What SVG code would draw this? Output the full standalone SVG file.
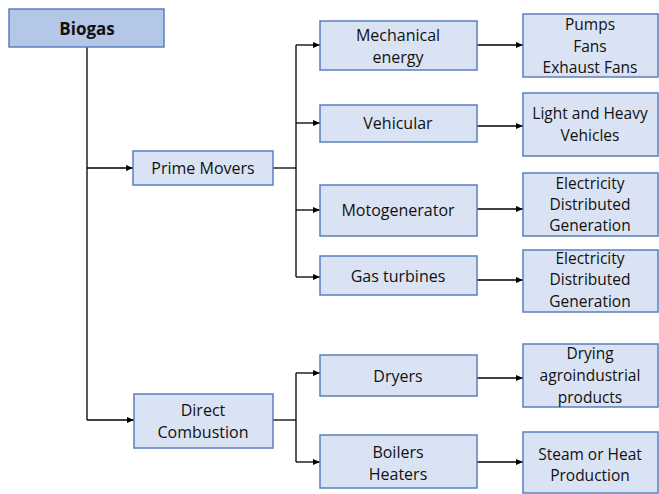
<svg xmlns="http://www.w3.org/2000/svg" width="659" height="494" viewBox="0 0 659 494">
<style>
.box{fill:#dae3f3;stroke:#5a7fc0;stroke-width:1.5}
.root{fill:#b4c7e7;stroke:#5a7fc0;stroke-width:1.5}
text{font-family:"Open Sans","Noto Sans",sans-serif;font-size:16px;fill:#111;text-anchor:middle;dominant-baseline:central}
.s{font-size:15.5px}
.b{font-weight:bold;font-size:17px}
.c{fill:none;stroke:#000;stroke-width:1.3}
</style>
<defs>
<marker id="ah" markerWidth="8" markerHeight="8" refX="7" refY="4" orient="auto" markerUnits="userSpaceOnUse">
<path d="M0,1 L7,4 L0,7 Z" fill="#000"/>
</marker>
</defs>
<rect width="659" height="494" fill="#fff"/>
<g id="connectors">
<path class="c" d="M87,47 V420"/>
<path class="c" d="M87,168 H133" marker-end="url(#ah)"/>
<path class="c" d="M87,420 H134" marker-end="url(#ah)"/>
<path class="c" d="M273,168 H296"/>
<path class="c" d="M296,45 V277"/>
<path class="c" d="M296,45 H320" marker-end="url(#ah)"/>
<path class="c" d="M296,123 H320" marker-end="url(#ah)"/>
<path class="c" d="M296,210 H320" marker-end="url(#ah)"/>
<path class="c" d="M296,277 H320" marker-end="url(#ah)"/>
<path class="c" d="M273,420 H296"/>
<path class="c" d="M296,373 V462"/>
<path class="c" d="M296,373 H320" marker-end="url(#ah)"/>
<path class="c" d="M296,462 H320" marker-end="url(#ah)"/>
<path class="c" d="M477,45 H523" marker-end="url(#ah)"/>
<path class="c" d="M477,126 H523" marker-end="url(#ah)"/>
<path class="c" d="M477,209 H523" marker-end="url(#ah)"/>
<path class="c" d="M477,280 H523" marker-end="url(#ah)"/>
<path class="c" d="M477,378 H523" marker-end="url(#ah)"/>
<path class="c" d="M477,462 H523" marker-end="url(#ah)"/>
</g>
<g id="biogas"><rect class="root" x="9" y="9" width="155" height="38"/><text class="b" x="87" y="28">Biogas</text></g>
<g id="prime-movers"><rect class="box" x="133" y="151" width="140" height="34"/><text x="203" y="168">Prime Movers</text></g>
<g id="direct-combustion"><rect class="box" x="134" y="394" width="139" height="54"/><text x="203" y="410">Direct</text><text x="203" y="432">Combustion</text></g>
<g id="mechanical-energy"><rect class="box" x="320" y="21" width="157" height="49"/><text x="398" y="35">Mechanical</text><text x="398" y="57">energy</text></g>
<g id="vehicular"><rect class="box" x="320" y="105" width="157" height="37"/><text x="398" y="123">Vehicular</text></g>
<g id="motogenerator"><rect class="box" x="320" y="185" width="157" height="51"/><text x="398" y="210">Motogenerator</text></g>
<g id="gas-turbines"><rect class="box" x="320" y="256" width="157" height="39"/><text x="398" y="276">Gas turbines</text></g>
<g id="dryers"><rect class="box" x="320" y="355" width="157" height="41"/><text x="398" y="376">Dryers</text></g>
<g id="boilers-heaters"><rect class="box" x="320" y="435" width="157" height="53"/><text x="398" y="452">Boilers</text><text x="398" y="474">Heaters</text></g>
<g id="pumps-fans"><rect class="box" x="523" y="14" width="135" height="63"/><text class="s" x="590" y="24">Pumps</text><text class="s" x="590" y="46">Fans</text><text class="s" x="590" y="67">Exhaust Fans</text></g>
<g id="light-heavy"><rect class="box" x="523" y="93" width="135" height="63"/><text class="s" x="590" y="113">Light and Heavy</text><text class="s" x="590" y="135">Vehicles</text></g>
<g id="electricity-1"><rect class="box" x="523" y="173" width="135" height="63"/><text class="s" x="590" y="183">Electricity</text><text class="s" x="590" y="204">Distributed</text><text class="s" x="590" y="225">Generation</text></g>
<g id="electricity-2"><rect class="box" x="523" y="250" width="135" height="62"/><text class="s" x="590" y="258">Electricity</text><text class="s" x="590" y="279">Distributed</text><text class="s" x="590" y="301">Generation</text></g>
<g id="drying"><rect class="box" x="523" y="344" width="135" height="63"/><text class="s" x="590" y="353">Drying</text><text class="s" x="590" y="375">agroindustrial</text><text class="s" x="590" y="397">products</text></g>
<g id="steam-heat"><rect class="box" x="523" y="432" width="135" height="61"/><text class="s" x="590" y="454">Steam or Heat</text><text class="s" x="590" y="475">Production</text></g>
</svg>
